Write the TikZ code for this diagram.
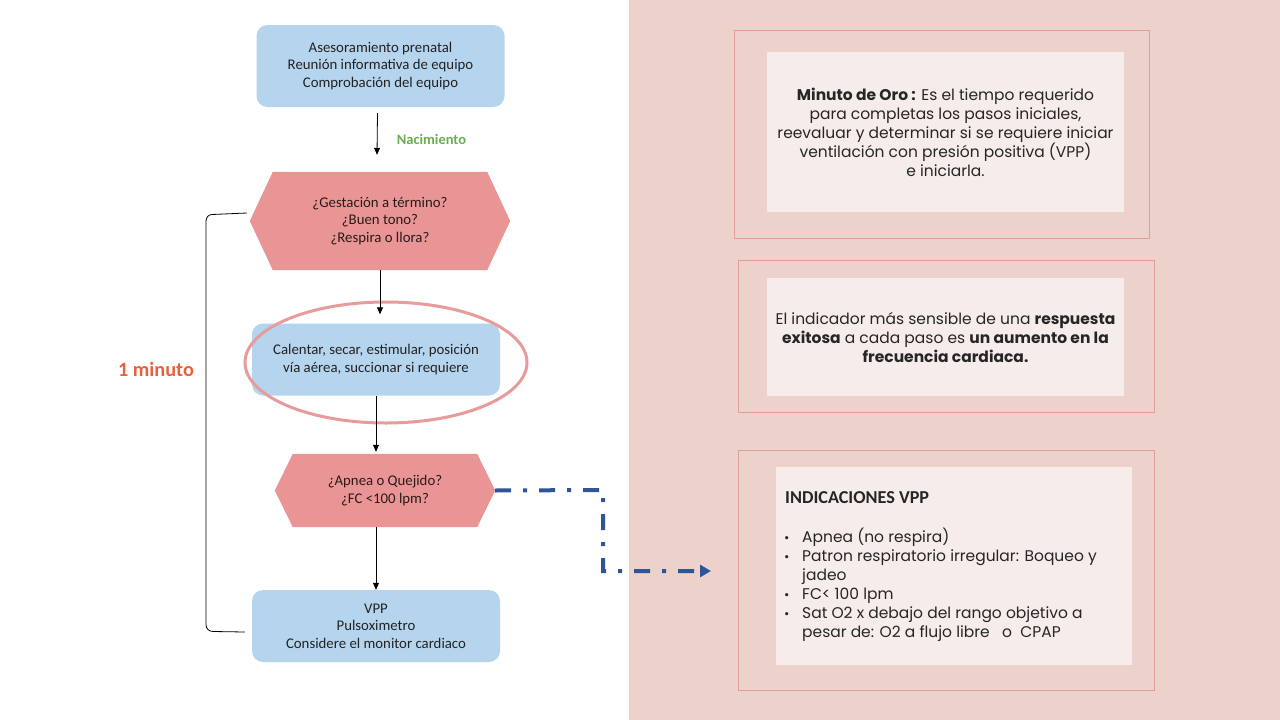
\documentclass[tikz,border=0pt]{standalone}
\usepackage{fontspec}
\setmainfont{Carlito}
\newfontfamily\gothic{Poppins}
\usetikzlibrary{arrows.meta,calc,shapes.geometric}
\pgfdeclarelayer{bg}
\pgfdeclarelayer{hexlayer}
\pgfsetlayers{bg,hexlayer,main}
\definecolor{bgpink}{HTML}{EDD1CB}
\definecolor{boxblue}{HTML}{B5D4EE}
\definecolor{hexred}{HTML}{E99595}
\definecolor{innerbox}{HTML}{F6ECEA}
\definecolor{framered}{HTML}{E29C9C}
\definecolor{linkblue}{HTML}{2F5597}
\definecolor{nacgreen}{HTML}{6AAE4F}
\definecolor{minred}{HTML}{E8613C}
\definecolor{ellred}{HTML}{E79B9B}
\definecolor{textdark}{HTML}{222222}
\definecolor{hextext}{HTML}{2B1A1A}
\definecolor{gtextc}{HTML}{262626}
\begin{document}
\begin{tikzpicture}[x=1pt,y=-1pt,
  flowbox/.style={rounded corners=11, fill=boxblue, align=center, text=textdark, font=\fontsize{14.8}{17.5}\selectfont, inner sep=0},
  hexnode/.style={align=center, text=hextext, font=\fontsize{14.8}{17.5}\selectfont, inner sep=0},
  arr/.style={-{Triangle[length=7,width=6]}, line width=0.8, black},
  frameline/.style={draw=framered, line width=0.8, inner sep=0},
  innerfill/.style={fill=innerbox, inner sep=0},
  gtext/.style={font=\gothic\fontsize{15.5}{19}\selectfont, text=gtextc, align=center},
  link/.style={draw=linkblue, line width=4, dash pattern=on 16 off 12 on 4 off 12},
  bul/.style={},
]
\begin{pgfonlayer}{bg}
\fill[white] (0,0) rectangle (629,720);
\fill[bgpink] (629,0) rectangle (1280,720);
\end{pgfonlayer}
\useasboundingbox (0,0) rectangle (1280,720);

% flowchart nodes
\node[flowbox, minimum width=248, minimum height=82] (box1) at (380.5,66) {Asesoramiento prenatal\\Reunión informativa de equipo\\Comprobación del equipo};
\node[hexnode, minimum width=260, minimum height=98] (hex1) at (380,221) {¿Gestación a término?\\¿Buen tono?\\¿Respira o llora?};
\node[flowbox, minimum width=248, minimum height=72] (box2) at (376,359.5) {Calentar, secar, estimular, posición\\vía aérea, succionar si requiere};
\node[hexnode, minimum width=220, minimum height=73] (hex2) at (385,490.5) {¿Apnea o Quejido?\\¿FC <100 lpm?};
\node[flowbox, minimum width=248, minimum height=72] (box3) at (376,626) {VPP\\Pulsoximetro\\Considere el monitor cardiaco};

\begin{pgfonlayer}{hexlayer}
\fill[hexred] (hex1.west) -- ($(hex1.north west)+(23,0)$) -- ($(hex1.north east)+(-23,0)$) -- (hex1.east) -- ($(hex1.south east)+(-23,0)$) -- ($(hex1.south west)+(23,0)$) -- cycle;
\fill[hexred] (hex2.west) -- ($(hex2.north west)+(18,0)$) -- ($(hex2.north east)+(-18,0)$) -- (hex2.east) -- ($(hex2.south east)+(-18,0)$) -- ($(hex2.south west)+(18,0)$) -- cycle;
\end{pgfonlayer}

\node[draw=ellred, line width=3, ellipse, minimum width=282, minimum height=121, inner sep=0] (ring) at (386,362.5) {};

% labels
\node[font=\bfseries\fontsize{14.5}{17}\selectfont, text=nacgreen] (nac) at (431.5,139) {Nacimiento};
\node[font=\bfseries\fontsize{20.3}{24}\selectfont, text=minred] (minlbl) at (156,369) {1 minuto};

% connectors
\draw[arr] ($(box1.south)+(-3,6)$) -- ($(hex1.north)+(-3,-17)$);
\draw[arr] (hex1.south) -- ($(box2.north -| hex1.south)+(0,-9)$);
\draw[arr] (box2.south) -- ($(hex2.north -| box2.south)+(0,-2)$);
\draw[arr] (hex2.south -| box3.north) -- (box3.north);

% bracket
\coordinate (bt) at ($(hex1.west)+(-3,-8)$);
\coordinate (bb) at ($(box3.west)+(-7,6)$);
\draw[line width=0.8] (bt) -- (212,214.5) to[out=180,in=90] (206,221) -- (206,625) to[out=-90,in=180] (213,631.5) -- (bb);

% dash-dot link
\coordinate (lk1) at (603,490);
\coordinate (lk2) at (603,571);
\coordinate (lkend) at (711,571);
\draw[link, -{Triangle[length=11,width=12]}] (hex2.east) -- (lk1) -- (lk2) -- (lkend);

% right panels
\node[frameline, minimum width=415, minimum height=208] (f1) at (941.5,134) {};
\node[innerfill, minimum width=357, minimum height=160, gtext] (i1) at (945.5,132) {\textbf{Minuto de Oro :} Es el tiempo requerido\\para completas los pasos iniciales,\\reevaluar y determinar si se requiere iniciar\\ventilación con presión positiva (VPP)\\e iniciarla.};

\node[frameline, minimum width=416, minimum height=152] (f2) at (946,336) {};
\node[innerfill, minimum width=357, minimum height=118, gtext] (i2) at (945.5,337) {El indicador más sensible de una \textbf{respuesta}\\\textbf{exitosa} a cada paso es \textbf{un aumento en la}\\\textbf{frecuencia cardiaca.}};

\node[frameline, minimum width=416, minimum height=240] (f3) at (946,570) {};
\node[innerfill, minimum width=356, minimum height=198] (i3) at (954,566) {};
\node[anchor=west, font=\bfseries\fontsize{18.2}{20}\selectfont, text=gtextc, inner sep=0] (ttl) at (785,498) {INDICACIONES VPP};
\node[anchor=north west, gtext, align=left, inner sep=0] (lst) at (784,528) {%
\begin{tabular}{@{}p{13pt}@{\hspace{5pt}}l@{}}
{\fontsize{13}{13}\selectfont\textbullet} & Apnea (no respira)\\
{\fontsize{13}{13}\selectfont\textbullet} & Patron respiratorio irregular: Boqueo y\\
 & jadeo\\
{\fontsize{13}{13}\selectfont\textbullet} & FC< 100 lpm\\
{\fontsize{13}{13}\selectfont\textbullet} & Sat O2 x debajo del rango objetivo a\\
 & pesar de: O2 a flujo libre\ \ \ o\ \ CPAP
\end{tabular}};
\end{tikzpicture}
\end{document}
